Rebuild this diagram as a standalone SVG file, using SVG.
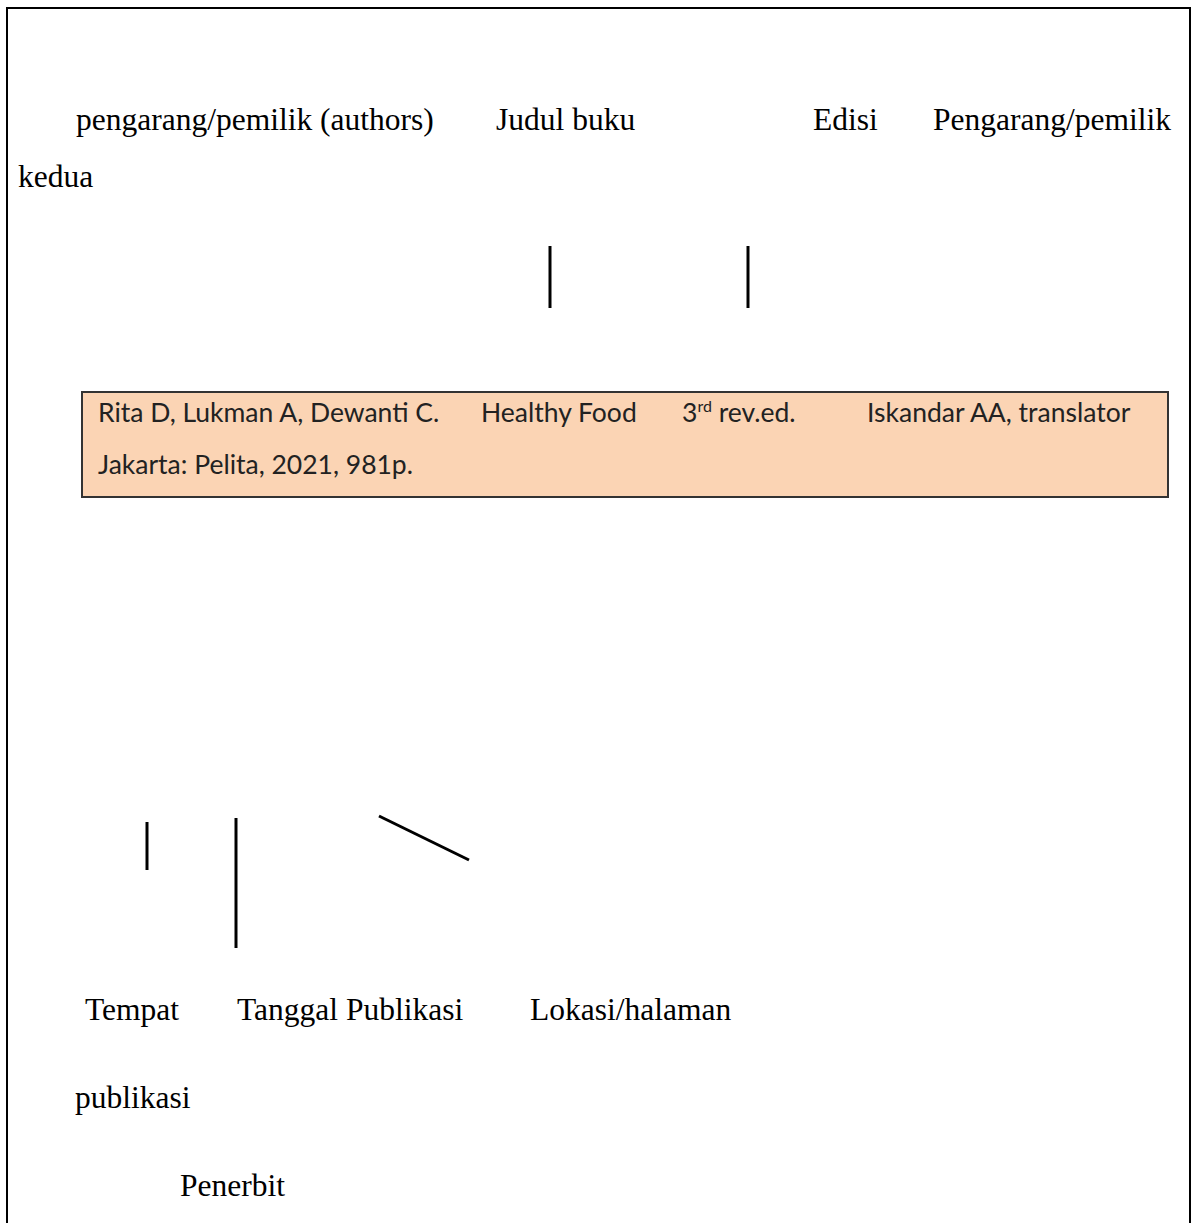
<svg xmlns="http://www.w3.org/2000/svg" width="1197" height="1223" viewBox="0 0 1197 1223">
<style>
.lbl{font-family:"Liberation Serif","Times New Roman",serif;font-size:31.5px;fill:#000}
.box{font-family:Lato,"Liberation Sans",sans-serif;font-size:26.5px;fill:#222}
.ln{stroke:#000;stroke-width:3;fill:none}
</style>
<rect width="1197" height="1223" fill="#fff"/>
<path d="M7,1223 V8 H1190 V1223" fill="none" stroke="#000" stroke-width="2"/>
<g id="labels-top">
<text class="lbl" x="76" y="130">pengarang/pemilik (authors)</text>
<text class="lbl" x="496" y="130">Judul buku</text>
<text class="lbl" x="813" y="130">Edisi</text>
<text class="lbl" x="933" y="130">Pengarang/pemilik</text>
<text class="lbl" x="18" y="187">kedua</text>
</g>
<g id="reference-box">
<rect x="82" y="392" width="1086" height="105" fill="#FBD4B4" stroke="#333" stroke-width="2"/>
<text class="box" x="98" y="422">Rita D, Lukman A, Dewanti C.</text>
<text class="box" x="481" y="422">Healthy Food</text>
<text class="box" x="682" y="422">3<tspan font-size="16" dy="-10">rd</tspan><tspan dy="10"> rev.ed.</tspan></text>
<text class="box" x="867" y="422">Iskandar AA, translator</text>
<text class="box" x="98" y="474">Jakarta: Pelita, 2021, 981p.</text>
</g>
<g id="connectors">
<line class="ln" x1="550" y1="246" x2="550" y2="308"/>
<line class="ln" x1="748" y1="246" x2="748" y2="308"/>
<line class="ln" x1="147" y1="822" x2="147" y2="870"/>
<line class="ln" x1="236" y1="818" x2="236" y2="948"/>
<line class="ln" x1="379" y1="816" x2="469" y2="860" stroke-width="2.5"/>
</g>
<g id="labels-bottom">
<text class="lbl" x="85" y="1020">Tempat</text>
<text class="lbl" x="237" y="1020">Tanggal Publikasi</text>
<text class="lbl" x="530" y="1020">Lokasi/halaman</text>
<text class="lbl" x="75" y="1108">publikasi</text>
<text class="lbl" x="180" y="1196">Penerbit</text>
</g>
</svg>
